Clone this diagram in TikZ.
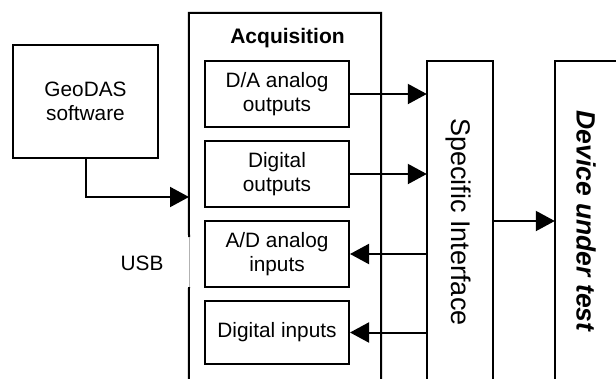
\documentclass[tikz,border=0pt]{standalone}
\usepackage{fontspec}
\setmainfont{Liberation Sans}
\usetikzlibrary{arrows.meta}
\begin{document}
\begin{tikzpicture}[x=1pt,y=-1pt,
  txt/.style={font=\fontsize{20.8}{24.5}\selectfont,align=center},
  bigtxt/.style={font=\fontsize{27}{30}\selectfont},
  box/.style={txt,draw,line width=2pt,inner sep=0pt},
  frame/.style={draw=none,inner sep=0pt},
  edge/.style={line width=2pt},
  link/.style={line width=2pt,-{Triangle[length=19pt,width=20pt]}}]
\clip (0,0) rectangle (616,378);
\fill[white] (0,0) rectangle (616,378);

% host software
\node[box,minimum width=145pt,minimum height=113pt] (geo) at (85.5,101.5) {GeoDAS\\software};

% acquisition unit (open at the bottom, gap where the USB link enters)
\node[frame,minimum width=192pt,minimum height=387pt] (acq) at (285,206.5) {};
\coordinate (usbtop) at (189,237);
\coordinate (usbbot) at (189,287);
\draw[edge] (usbtop) -- (acq.north west) -- (acq.north east) -- (acq.south east);
\draw[edge] (usbbot) -- (acq.south west);
\draw[gray!60,line width=0.6pt] (usbtop) -- (usbbot);
\node[txt,font=\fontsize{21}{24}\selectfont\bfseries] (acqt) at (287.5,38) {Acquisition};
\node[txt] (usb) at (142,263) {USB};

% acquisition channels
\node[box,minimum width=144pt,minimum height=66pt] (da) at (277,94) {D/A analog\\outputs};
\node[box,minimum width=144pt,minimum height=66pt] (do) at (277,174) {Digital\\outputs};
\node[box,minimum width=144pt,minimum height=66pt] (ad) at (277,254) {A/D analog\\inputs};
\node[box,minimum width=144pt,minimum height=63pt] (di) at (277,332.5) {Digital inputs};

% specific interface
\node[frame,minimum width=66pt,minimum height=339pt] (si) at (460,230.5) {};
\draw[edge] (si.south west) -- (si.north west) -- (si.north east) -- (si.south east);
\node[bigtxt,rotate=-90] (sit) at (458,222) {Specific Interface};

% device under test
\node[frame,minimum width=90pt,minimum height=339pt] (dut) at (600,230.5) {};
\draw[edge] (dut.south west) -- (dut.north west) -- (dut.north east);
\node[bigtxt,rotate=-90,font=\fontsize{26.5}{30}\selectfont\bfseries\itshape] (dutt) at (586,221) {Device under test};

% connectors
\coordinate (usbin) at (189,197);
\draw[link] (geo.south) |- (usbin);
\draw[link] (da.east) -- (si.west |- da.east);
\draw[link] (do.east) -- (si.west |- do.east);
\draw[link] (si.west |- ad.east) -- (ad.east);
\draw[link] (si.west |- di.east) -- (di.east);
\coordinate (siout) at (493,221);
\draw[link] (siout) -- (dut.west |- siout);
\end{tikzpicture}
\end{document}
